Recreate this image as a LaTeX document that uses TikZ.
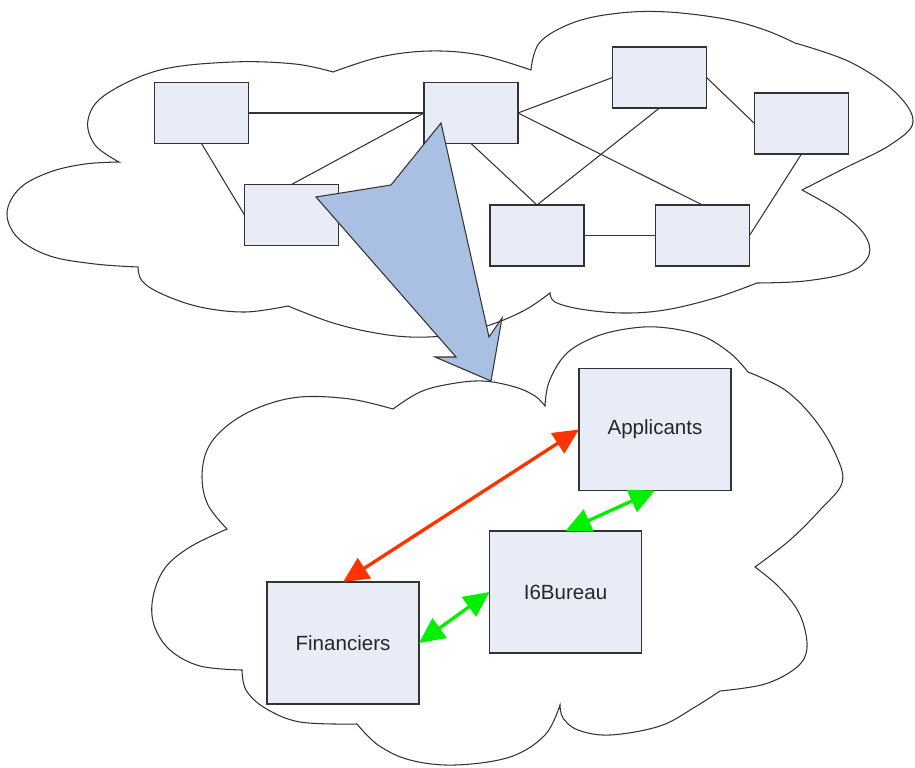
\documentclass[tikz,border=0pt]{standalone}
\usepackage{fontspec}
\setmainfont{Liberation Sans}
\usepackage{tikz}
\usetikzlibrary{arrows.meta}
\definecolor{boxfill}{HTML}{E8ECF6}
\definecolor{boxline}{HTML}{333333}
\definecolor{arrowfill}{HTML}{AAC0E2}
\definecolor{redlink}{HTML}{FF3300}
\definecolor{greenlink}{HTML}{00F000}

\begin{document}
\begin{tikzpicture}[x=0.02cm, y=-0.02cm,
    netbox/.style={draw=boxline, fill=boxfill, line width=0.8pt, inner sep=0pt, outer sep=0pt, minimum width=1.88cm, minimum height=1.22cm},
    rolebox/.style={netbox, minimum width=3.04cm, minimum height=2.44cm, font=\fontsize{11.7}{14}\selectfont, text=black!85},
    link/.style={draw=boxline, line width=0.6pt},
    cloudline/.style={draw=black!80, fill=white, line width=0.6pt},
    twoway/.style={line width=1.9pt, {Triangle[length=14.5pt,width=13.5pt]}-{Triangle[length=14.5pt,width=13.5pt]}}]
          \useasboundingbox (0,0) rectangle (915,767);
          \draw [cloudline] plot [smooth, tension=0.6] coordinates {(119,162) (95,145) (88,120) (105,95) (160,70) (233,62) (295,64) (333,72)}
            -- plot [smooth, tension=0.6] coordinates {(333,72) (380,57) (430,51) (480,55) (531,70)}
            -- plot [smooth, tension=0.6] coordinates {(531,70) (540,42) (575,22) (620,13) (668,12) (725,19) (765,30) (795,43)}
            -- plot [smooth, tension=0.6] coordinates {(795,43) (850,62) (895,92) (913,122) (890,145) (845,168) (802,190)}
            -- plot [smooth, tension=0.6] coordinates {(802,190) (840,212) (864,234) (869,255) (850,272) (805,281) (757,283)}
            -- plot [smooth, tension=0.6] coordinates {(757,283) (715,298) (665,310) (622,313) (580,309) (555,302) (550,293)}
            -- plot [smooth, tension=0.6] coordinates {(550,293) (525,310) (490,325) (450,335) (410,337) (370,332) (330,322) (288,306)}
            -- plot [smooth, tension=0.6] coordinates {(288,306) (245,312) (200,307) (162,294) (142,281) (138,267)}
            -- plot [smooth, tension=0.6] coordinates {(138,267) (95,264) (50,256) (18,238) (7,213) (20,188) (50,172) (85,164) (119,162)}
            -- cycle;
          \node [netbox] (n1) at (201.5, 113) {};
          \node [netbox] (n2) at (471, 113) {};
          \node [netbox] (n3) at (659.5, 77.5) {};
          \node [netbox] (n4) at (801.5, 123.5) {};
          \node [netbox] (n5) at (291.5, 215) {};
          \node [netbox] (n6) at (537, 235.5) {};
          \node [netbox] (n7) at (702.5, 235.5) {};
          \draw [link] (n1.east) -- (n2.west);
          \draw [link] (n1.south) -- (n5.west);
          \draw [link] (n2.west) -- (n5.north);
          \draw [link] (n2.east) -- (n3.west);
          \draw [link] (n2.east) -- (n7.north);
          \draw [link] (n2.south) -- (n6.north);
          \draw [link] (n3.south) -- (n6.north);
          \draw [link] (n3.east) -- (n4.west);
          \draw [link] (n4.south) -- (n7.east);
          \draw [link] (n6.east) -- (n7.west);
          \draw [cloudline] plot [smooth, tension=0.6] coordinates {(393,409) (420,392) (450,384) (483,381) (515,387) (535,396) (545,406)}
            -- plot [smooth, tension=0.6] coordinates {(545,406) (549,382) (565,355) (590,339) (620,330) (657,327) (700,335) (730,353) (748,372)}
            -- plot [smooth, tension=0.6] coordinates {(748,372) (785,390) (815,420) (836,455) (842,483) (820,510) (790,540) (755,567)}
            -- plot [smooth, tension=0.6] coordinates {(755,567) (780,588) (800,615) (807,647) (797,667) (765,684) (720,691)}
            -- plot [smooth, tension=0.6] coordinates {(720,691) (695,707) (660,726) (610,735) (578,730) (563,718) (560,705)}
            -- plot [smooth, tension=0.6] coordinates {(560,705) (545,735) (510,757) (455,765) (410,760) (378,745) (357,724)}
            -- plot [smooth, tension=0.6] coordinates {(357,724) (300,722) (265,708) (246,690) (242,670)}
            -- plot [smooth, tension=0.6] coordinates {(242,670) (200,666) (170,650) (154,625) (153,597) (165,568) (190,547) (227,529)}
            -- plot [smooth, tension=0.6] coordinates {(227,529) (208,505) (202,477) (208,448) (228,425) (260,407) (300,397) (350,399) (393,409)}
            -- cycle;
          \node [rolebox] (app) at (655, 429.5) {Applicants};
          \node [rolebox] (bur) at (565.5, 592) {I6Bureau};
          \node [rolebox] (fin) at (343, 643) {Financiers};
          \draw [twoway, redlink] (fin.north) -- (app.west);
          \draw [twoway, greenlink] (app.south) -- (bur.north);
          \draw [twoway, greenlink] (bur.west) -- (fin.east);
          \draw [draw=boxline, fill=arrowfill, line width=0.6pt, line join=miter]
            (441,123) -- (489,337) -- (502,318) -- (491,381) -- (435,357) -- (456,357) -- (316,197) -- (391,185) -- cycle;
        \end{tikzpicture}
\end{document}
